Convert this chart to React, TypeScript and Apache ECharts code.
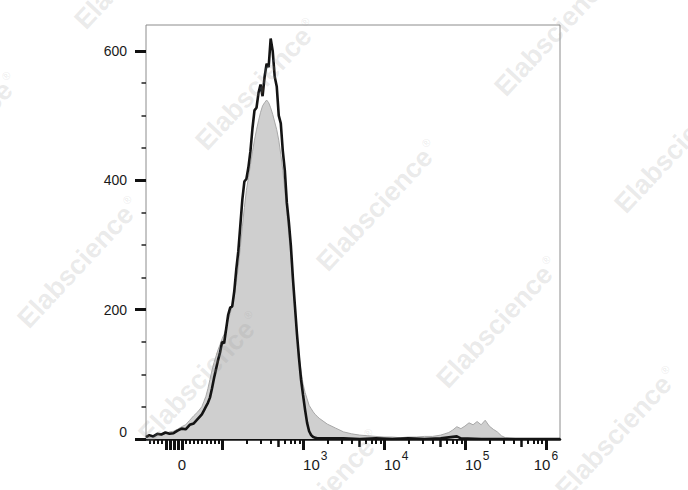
import React, { useEffect, useRef } from "react";
import * as echarts from "echarts";

// ---------- data ----------
// Histogram bins: [display position (decades on the biexponential axis), event count]
const GRAY_HIST: [number, number][] = [
  [1.06, 2], [1.1, 3], [1.15, 4], [1.2, 6], [1.25, 6], [1.3, 8], [1.35, 11], [1.4, 12],
  [1.45, 15], [1.5, 19], [1.55, 22], [1.6, 29], [1.65, 36], [1.7, 42], [1.75, 50],
  [1.775, 58], [1.8, 66], [1.825, 78], [1.85, 92], [1.875, 106], [1.9, 118], [1.925, 128],
  [1.95, 138], [1.975, 146], [2.0, 155], [2.025, 162], [2.05, 172], [2.075, 184], [2.1, 194],
  [2.125, 206], [2.15, 222], [2.175, 242], [2.2, 266], [2.225, 296], [2.25, 328], [2.275, 358],
  [2.3, 384], [2.325, 404], [2.35, 424], [2.375, 444], [2.4, 462], [2.425, 478], [2.45, 492],
  [2.475, 505], [2.5, 515], [2.525, 520], [2.55, 524], [2.575, 520], [2.6, 512], [2.625, 502],
  [2.65, 490], [2.675, 478], [2.7, 462], [2.725, 440], [2.75, 415], [2.775, 385], [2.8, 350],
  [2.825, 315], [2.85, 280], [2.875, 240], [2.9, 200], [2.925, 160], [2.95, 128], [2.975, 105],
  [3.0, 85], [3.025, 72], [3.05, 62], [3.075, 52], [3.1, 47], [3.125, 42], [3.15, 38],
  [3.175, 35], [3.2, 32], [3.3, 23], [3.4, 17], [3.5, 11], [3.6, 8], [3.7, 6], [3.8, 5],
  [3.9, 4], [4.0, 3], [4.1, 3], [4.2, 2], [4.3, 3], [4.4, 3], [4.5, 4], [4.6, 4], [4.7, 6],
  [4.75, 8], [4.8, 10], [4.85, 14], [4.9, 19], [4.95, 16], [5.0, 20], [5.05, 25], [5.1, 22],
  [5.15, 27], [5.2, 22], [5.25, 29], [5.3, 20], [5.35, 15], [5.4, 11], [5.45, 5], [5.5, 2],
  [5.6, 1], [5.7, 0], [6.174, 0],
];

const BLACK_HIST: [number, number][] = [
  [1.06, 3], [1.1, 6], [1.15, 4], [1.2, 8], [1.25, 7], [1.3, 10], [1.35, 8], [1.4, 9],
  [1.45, 13], [1.5, 16], [1.55, 15], [1.6, 22], [1.65, 24], [1.7, 31], [1.75, 38],
  [1.775, 44], [1.8, 50], [1.825, 56], [1.85, 64], [1.875, 78], [1.9, 94], [1.925, 108],
  [1.95, 122], [1.975, 134], [2.0, 150], [2.025, 148], [2.05, 170], [2.075, 192], [2.1, 203],
  [2.125, 205], [2.15, 228], [2.175, 262], [2.2, 290], [2.225, 330], [2.25, 370], [2.275, 398],
  [2.3, 402], [2.325, 420], [2.35, 445], [2.375, 480], [2.4, 508], [2.425, 512], [2.45, 535],
  [2.475, 548], [2.5, 530], [2.525, 560], [2.55, 580], [2.575, 575], [2.6, 619], [2.625, 600],
  [2.65, 560], [2.675, 545], [2.7, 500], [2.725, 488], [2.75, 445], [2.775, 415], [2.8, 365],
  [2.825, 335], [2.85, 298], [2.875, 248], [2.9, 205], [2.925, 162], [2.95, 125], [2.975, 92],
  [3.0, 68], [3.025, 45], [3.05, 25], [3.075, 12], [3.1, 6], [3.125, 3], [3.15, 2],
  [3.175, 1], [3.3, 1], [3.5, 1], [3.7, 0], [3.9, 1], [4.1, 0], [4.3, 1], [4.5, 0],
  [4.7, 1], [4.9, 4], [4.95, 1], [5.2, 0], [5.6, 0], [6.174, 0],
];

// Axis definitions (fluorescence intensity values)
const X_MIN = 1.06;
const X_MAX = 6.174;
const X_MAJOR_TICKS = [-40, -30, -20, -10, 0, 100, 1000, 10000, 100000, 1000000];
const X_MEDIUM_TICKS = [500, 5000, 50000, 500000];
const X_MINOR_TICKS = [
  -80, -70, -60, -50, 10, 20, 30, 40, 50, 60, 70, 80, 90,
  200, 300, 400, 600, 700, 800, 900,
  2000, 3000, 4000, 6000, 7000, 8000, 9000,
  20000, 30000, 40000, 60000, 70000, 80000, 90000,
  200000, 300000, 400000, 600000, 700000, 800000, 900000,
];
const X_LABELS_LEFT = [1000, 10000, 100000];
const X_LABELS_CENTER = [0, 1000000];

const Y_MAX = 640;
const Y_MAJOR = [0, 200, 400, 600];
const Y_LABELS = [200, 400, 600];
const Y_MINOR = [50, 100, 150, 250, 300, 350, 450, 500, 550];

const WATERMARKS: [number, number][] = [
  [136, -36], [257, 85], [378, 206], [498, 323], [617, 433],
  [-42, 139], [79, 263], [200, 378], [320, 496],
  [556, 31], [676, 148],
];

// biexponential-like display transform (linear near zero, log above)
const LIN_W = 87;
function toDisplay(v: number): number {
  if (v >= LIN_W) return Math.log10(v);
  return Math.log10(LIN_W) + (v - LIN_W) / (LIN_W * Math.LN10);
}

const FONT = "'Liberation Sans', Arial, Helvetica, sans-serif";
const TXT = "#1a1a1a";

function decadeLabel(v: number): string {
  if (Math.abs(v - toDisplay(0)) < 1e-6) return "{z|0}";
  const e = Math.round(v);
  return "{b|10}{sup|" + e + "}";
}

const labelRich = {
  b: { fontSize: 15, lineHeight: 17, verticalAlign: "bottom", fontFamily: FONT, color: TXT },
  sup: { fontSize: 12, lineHeight: 13, verticalAlign: "bottom", padding: [0, 0, 10, 1], fontFamily: FONT, color: TXT },
  z: { fontSize: 15, lineHeight: 17, verticalAlign: "bottom", padding: [6, 0, 0, 0], fontFamily: FONT, color: TXT },
};

export default function App() {
  const ref = useRef<HTMLDivElement>(null);

  useEffect(() => {
    if (!ref.current) return;
    const chart = echarts.init(ref.current, null, { renderer: "svg" });

    const xBase = {
      type: "value",
      min: X_MIN,
      max: X_MAX,
      position: "bottom",
      offset: 0,
      splitLine: { show: false },
      axisLine: { show: false },
    };

    const option: any = {
      animation: false,
      backgroundColor: "#ffffff",
      grid: {
        left: 146,
        right: 128,
        top: 25,
        bottom: 51,
        show: true,
        borderColor: "#8c8c8c",
        borderWidth: 1,
        backgroundColor: "transparent",
      },
      xAxis: [
        {
          ...xBase,
          axisLine: { show: true, lineStyle: { color: "#111", width: 2.5 } },
          axisTick: {
            show: true,
            length: 11,
            customValues: X_MAJOR_TICKS.map(toDisplay),
            lineStyle: { color: "#111", width: 3 },
          },
          axisLabel: {
            show: true,
            customValues: X_LABELS_LEFT.map(toDisplay),
            formatter: decadeLabel,
            align: "left",
            margin: 16,
            rich: labelRich,
          },
        },
        {
          ...xBase,
          axisTick: {
            show: true,
            length: 8,
            customValues: X_MEDIUM_TICKS.map(toDisplay),
            lineStyle: { color: "#111", width: 2.5 },
          },
          axisLabel: {
            show: true,
            customValues: X_LABELS_CENTER.map(toDisplay),
            formatter: decadeLabel,
            align: "center",
            margin: 16,
            rich: labelRich,
          },
        },
        {
          ...xBase,
          axisTick: {
            show: true,
            length: 5,
            customValues: X_MINOR_TICKS.map(toDisplay),
            lineStyle: { color: "#111", width: 2 },
          },
          axisLabel: { show: false },
        },
      ],
      yAxis: [
        {
          type: "value",
          min: 0,
          max: Y_MAX,
          position: "left",
          splitLine: { show: false },
          axisLine: { show: false },
          axisTick: {
            show: true,
            length: 11,
            customValues: Y_MAJOR,
            lineStyle: { color: "#111", width: 3 },
          },
          axisLabel: {
            show: true,
            customValues: Y_LABELS,
            margin: 19,
            fontSize: 14,
            fontFamily: FONT,
            color: TXT,
          },
        },
        {
          type: "value",
          min: 0,
          max: Y_MAX,
          position: "left",
          splitLine: { show: false },
          axisLine: { show: false },
          axisTick: {
            show: true,
            length: 4.5,
            customValues: Y_MINOR,
            lineStyle: { color: "#222", width: 1.5 },
          },
          axisLabel: {
            show: true,
            customValues: [0],
            margin: 19,
            fontSize: 14,
            fontFamily: FONT,
            color: TXT,
            verticalAlign: "bottom",
          },
        },
      ],
      series: [
        {
          type: "line",
          xAxisIndex: 0,
          yAxisIndex: 0,
          data: GRAY_HIST,
          symbol: "none",
          lineStyle: { color: "#a8a8a8", width: 1 },
          areaStyle: { color: "#cfcfcf", opacity: 1 },
          z: 2,
        },
        {
          type: "line",
          xAxisIndex: 0,
          yAxisIndex: 0,
          data: BLACK_HIST,
          symbol: "none",
          lineStyle: { color: "#141414", width: 2.6 },
          z: 3,
        },
      ],
      graphic: WATERMARKS.map(([x, y]) => ({
        type: "text",
        x,
        y,
        rotation: (47 * Math.PI) / 180,
        silent: true,
        z: 100,
        style: {
          text: "{a|Elabscience}{r|®}",
          align: "center",
          verticalAlign: "middle",
          fill: "rgba(150,150,150,0.2)",
          rich: {
            a: { fontSize: 27, fontWeight: "bold", fontFamily: FONT, fill: "rgba(150,150,150,0.2)", verticalAlign: "bottom" },
            r: { fontSize: 11, fontFamily: FONT, fill: "rgba(150,150,150,0.2)", verticalAlign: "bottom", padding: [0, 0, 16, 2] },
          },
        },
      })),
    };

    chart.setOption(option);
    return () => chart.dispose();
  }, []);

  return (
    <div
      ref={ref}
      style={{ position: "fixed", left: 0, top: 0, width: 688, height: 490, background: "#fff" }}
    />
  );
}
